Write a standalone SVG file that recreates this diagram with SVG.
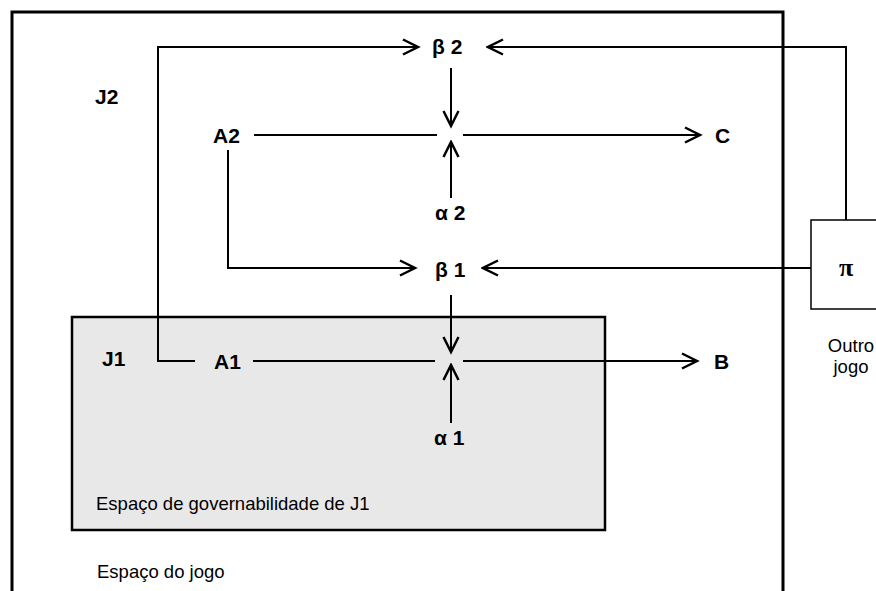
<svg xmlns="http://www.w3.org/2000/svg" width="876" height="591" viewBox="0 0 876 591">
<defs>
<marker id="arr" markerUnits="userSpaceOnUse" markerWidth="20" markerHeight="20" viewBox="-14 -8 16 16" refX="0" refY="0" orient="auto">
<path d="M-12,-6 L0,0 L-12,6" fill="none" stroke="#000" stroke-width="2"/>
</marker>
<style>
.b{font-family:"Liberation Sans",Arial,sans-serif;font-weight:bold;font-size:21px;fill:#000}
.r{font-family:"Liberation Sans",Arial,sans-serif;font-size:18.5px;fill:#000}
.c{fill:none;stroke:#000;stroke-width:2}
</style>
</defs>
<rect width="876" height="591" fill="#fff"/>
<g id="espaco-jogo">
<path d="M12,595 V12 H783 V595" fill="none" stroke="#000" stroke-width="3"/>
<text class="r" x="97" y="578">Espaço do jogo</text>
</g>
<g id="governabilidade">
<rect x="72" y="317" width="533" height="213" fill="#e8e8e8" stroke="#000" stroke-width="2.5"/>
<text class="r" x="96" y="510">Espaço de governabilidade de J1</text>
</g>
<g id="outro-jogo">
<rect x="811" y="220" width="80" height="89" fill="#fff" stroke="#000" stroke-width="1.5"/>
<text x="846" y="276" text-anchor="middle" style="font-family:'Liberation Serif','DejaVu Serif',serif;font-weight:bold;font-size:26px">π</text>
<text class="r" x="851" y="352" text-anchor="middle">Outro</text>
<text class="r" x="851" y="373" text-anchor="middle">jogo</text>
</g>
<g id="J2"><text class="b" x="95" y="104">J2</text></g>
<g id="J1"><text class="b" x="102" y="366">J1</text></g>
<g id="beta2"><text class="b" x="432" y="54">β 2</text></g>
<g id="A2"><text class="b" x="213" y="143">A2</text></g>
<g id="C"><text class="b" x="715" y="143">C</text></g>
<g id="alpha2"><text class="b" x="435" y="220">α 2</text></g>
<g id="beta1"><text class="b" x="435" y="277">β 1</text></g>
<g id="A1"><text class="b" x="214" y="369">A1</text></g>
<g id="B"><text class="b" x="714" y="369">B</text></g>
<g id="alpha1"><text class="b" x="434" y="445">α 1</text></g>
<g id="connectors">
<path class="c" d="M195,361 H158 V47 H418" marker-end="url(#arr)"/>
<path class="c" d="M451,68 V126" marker-end="url(#arr)"/>
<path class="c" d="M451,198 V142" marker-end="url(#arr)"/>
<path class="c" d="M254,135 H437"/>
<path class="c" d="M463,135 H700" marker-end="url(#arr)"/>
<path class="c" d="M228,150 V268 H415" marker-end="url(#arr)"/>
<path class="c" d="M811,268 H483" marker-end="url(#arr)"/>
<path class="c" d="M846,220 V47 H488" marker-end="url(#arr)"/>
<path class="c" d="M451,295 V352" marker-end="url(#arr)"/>
<path class="c" d="M451,423 V365" marker-end="url(#arr)"/>
<path class="c" d="M253,361 H435"/>
<path class="c" d="M463,361 H697" marker-end="url(#arr)"/>
</g>
</svg>
